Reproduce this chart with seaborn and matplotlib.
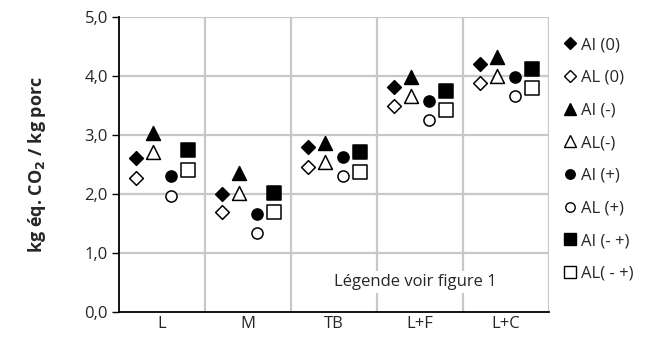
import numpy as np
import pandas as pd
import matplotlib
matplotlib.use("Agg")
import matplotlib.pyplot as plt
import seaborn as sns
from matplotlib.lines import Line2D

categories = ["L", "M", "TB", "L+F", "L+C"]
series_names = ["AI (0)", "AL (0)", "AI (-)", "AL(-)", "AI (+)", "AL (+)", "AI (- +)", "AL( - +)"]
ai_0 = [2.61, 2.00, 2.79, 3.81, 4.20]
al_0 = [2.27, 1.69, 2.46, 3.49, 3.88]
ai_minus = [3.03, 2.36, 2.86, 3.98, 4.32]
al_minus = [2.71, 2.02, 2.54, 3.66, 4.00]
ai_plus = [2.31, 1.66, 2.63, 3.58, 3.98]
al_plus = [1.97, 1.34, 2.31, 3.25, 3.66]
ai_mp = [2.75, 2.02, 2.71, 3.75, 4.12]
al_mp = [2.41, 1.69, 2.38, 3.42, 3.80]
yticks = [0, 1, 2, 3, 4, 5]
ytick_labels = ["0,0", "1,0", "2,0", "3,0", "4,0", "5,0"]

sns.set_theme(style="white")
plt.rcParams["font.family"] = ["Open Sans", "DejaVu Sans"]

values = [ai_0, al_0, ai_minus, al_minus, ai_plus, al_plus, ai_mp, al_mp]
offsets = [-0.3, -0.3, -0.1, -0.1, 0.1, 0.1, 0.3, 0.3]
markers = ["D", "D", "^", "^", "o", "o", "s", "s"]
sizes = [7.0, 7.0, 10, 10, 8, 8, 10, 10]
filled = [True, False, True, False, True, False, True, False]

FS = 12

fig = plt.figure(figsize=(6.59, 3.38), dpi=100)
ax = fig.add_axes([0.1806, 0.0769, 0.6525, 0.8728])

cat_idx = np.arange(len(categories))
for name, vals, off, m, s, f in zip(series_names, values, offsets, markers, sizes, filled):
    df = pd.DataFrame({"x": cat_idx + 0.5 + off, "y": vals})
    sns.scatterplot(data=df, x="x", y="y", ax=ax, marker=m, s=s ** 2,
                    color="black" if f else "white", edgecolor="black",
                    linewidth=1.1, zorder=3, legend=False)

ax.set_xlim(0, len(categories))
ax.set_ylim(0, 5)
ax.set_yticks(yticks)
ax.set_yticklabels(ytick_labels, fontsize=FS)
ax.set_xticks(cat_idx + 0.5)
ax.set_xticklabels(categories, fontsize=FS)
ax.grid(False)
for v in range(1, 6):
    ax.axhline(v, color="#c8c8c8", lw=1.6, zorder=0)
for v in range(1, len(categories) + 1):
    ax.axvline(v, color="#c8c8c8", lw=1.6, zorder=0)
ax.tick_params(axis="y", which="major", direction="out", length=5, width=1, color="black", pad=3, left=True)
ax.tick_params(axis="x", which="major", length=0, pad=3)
for side in ["top", "right"]:
    ax.spines[side].set_visible(False)
ax.spines["left"].set_color("black")
ax.spines["left"].set_linewidth(1.3)
ax.spines["bottom"].set_color("black")
ax.spines["bottom"].set_linewidth(1.3)
ax.set_xlabel("")
ax.set_ylabel(r"kg éq. CO$_\mathbf{2}$ / kg porc", fontsize=13, fontweight="bold", labelpad=26)

ax.text(3.45, 0.51, "Légende voir figure 1", ha="center", va="center", fontsize=FS,
        bbox=dict(facecolor="white", edgecolor="none", pad=2), zorder=2)

handles = []
for name, m, s, f in zip(series_names, markers, sizes, filled):
    handles.append(Line2D([], [], ls="none", marker=m, markersize=s * 0.85,
                          markerfacecolor="black" if f else "white",
                          markeredgecolor="black", markeredgewidth=1.0, label=name))
fig.legend(handles=handles, loc="upper left", bbox_to_anchor=(0.845, 0.91), frameon=False,
           fontsize=FS, labelspacing=1.0, handlelength=0.8, handletextpad=0.25, borderaxespad=0)

fig.savefig("out.png", dpi=100)
